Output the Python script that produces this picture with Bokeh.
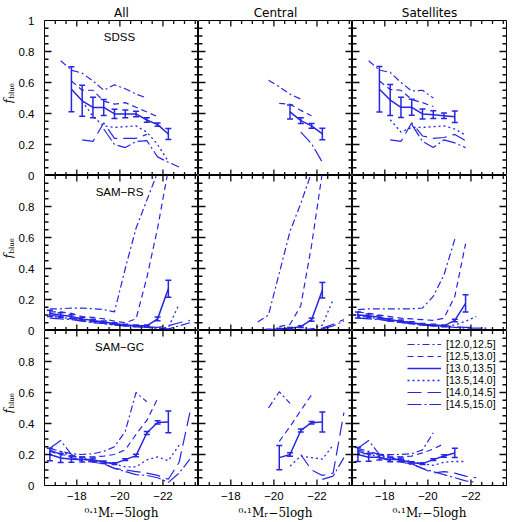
import numpy as np
from bokeh.plotting import figure
from bokeh.models import (Range1d, LinearAxis, FixedTicker, Whisker, TeeHead,
                          ColumnDataSource, Label, Legend, LegendItem, GridBox)
from bokeh.embed import file_html
from bokeh.resources import INLINE

N = None

# absolute magnitude bin centres (0.1M_r - 5 log h)
MAG = [-16.75, -17.25, -17.75, -18.25, -18.75, -19.25, -19.75,
       -20.25, -20.75, -21.25, -21.75, -22.25, -22.75, -23.25]

# halo-mass bins (log M)
BIN_LABELS = ["[12.0,12.5]", "[12.5,13.0]", "[13.0,13.5]",
              "[13.5,14.0]", "[14.0,14.5]", "[14.5,15.0]"]

# ---------------- SDSS ----------------
sdss_all_120 = [N, 0.74, 0.68, 0.66, 0.61, 0.55, 0.585, 0.56, 0.525, 0.50, N, N, N, N]
sdss_all_125 = [N, N, 0.61, 0.55, 0.55, 0.48, 0.46, 0.47, 0.44, 0.41, 0.38, N, N, N]
sdss_all_130 = [N, N, 0.557, 0.482, 0.439, 0.439, 0.397, 0.397, 0.397, 0.358, 0.328, 0.268, N, N]
sdss_all_130_err = [N, N, 0.145, 0.10, 0.066, 0.052, 0.03, 0.025, 0.018, 0.014, 0.011, 0.035, N, N]
sdss_all_135 = [N, N, N, 0.48, 0.38, 0.32, 0.31, 0.315, 0.32, 0.28, 0.20, 0.09, N, N]
sdss_all_140 = [N, N, N, 0.23, 0.22, 0.34, 0.24, 0.24, 0.24, 0.265, N, N, N, N]
sdss_all_145 = [N, N, N, N, N, 0.30, 0.20, 0.18, 0.22, 0.225, 0.12, 0.085, 0.055, N]

sdss_cen_120 = [N, N, N, N, N, N, 0.615, 0.572, 0.525, 0.493, N, N, N, N]
sdss_cen_125 = [N, N, N, N, N, N, N, 0.465, 0.46, 0.42, 0.385, N, N, N]
sdss_cen_130 = [N, N, N, N, N, N, N, N, 0.41, 0.354, 0.32, 0.268, N, N]
sdss_cen_130_err = [N, N, N, N, N, N, N, N, 0.045, 0.018, 0.015, 0.037, N, N]
sdss_cen_135 = [N] * 14
sdss_cen_140 = [N] * 14
sdss_cen_145 = [N, N, N, N, N, N, N, N, N, 0.28, 0.205, 0.085, N, N]

sdss_sat_120 = [N, 0.74, 0.68, 0.665, 0.60, 0.545, 0.55, 0.50, N, N, N, N, N, N]
sdss_sat_125 = [N, N, 0.61, 0.555, 0.55, 0.49, 0.47, 0.445, N, N, N, N, N, N]
sdss_sat_130 = [N, N, 0.557, 0.487, 0.44, 0.44, 0.397, 0.392, 0.386, 0.379, N, N, N, N]
sdss_sat_130_err = [N, N, 0.147, 0.10, 0.065, 0.052, 0.032, 0.025, 0.018, 0.037, N, N, N, N]
sdss_sat_135 = [N, N, N, 0.36, 0.28, 0.31, 0.31, 0.315, 0.32, 0.30, 0.26, N, N, N]
sdss_sat_140 = [N, N, N, 0.23, 0.22, 0.34, 0.255, 0.24, 0.245, 0.265, 0.225, N, N, N]
sdss_sat_145 = [N, N, N, N, N, 0.33, 0.22, 0.18, 0.23, 0.21, 0.18, N, N, N]

# ---------------- SAM-RS ----------------
rs_all_120 = [0.14, 0.14, 0.145, 0.145, 0.14, 0.135, 0.12, 0.40, 0.66, 0.84, 1.02, N, N, N]
rs_all_125 = [0.12, 0.12, 0.11, 0.09, 0.085, 0.075, 0.06, 0.05, 0.075, 0.34, 0.66, 1.04, N, N]
rs_all_130 = [0.11, 0.10, 0.09, 0.075, 0.065, 0.055, 0.045, 0.035, 0.03, 0.03, 0.075, 0.27, N, N]
rs_all_130_err = [0.02, 0.015, 0.012, 0.01, 0.008, 0.006, 0.005, 0.005, 0.005, 0.006, 0.012, 0.055, N, N]
rs_all_135 = [0.09, 0.085, 0.075, 0.065, 0.055, 0.045, 0.035, 0.03, 0.025, 0.02, 0.015, 0.02, 0.17, N]
rs_all_140 = [0.10, 0.09, 0.08, 0.07, 0.06, 0.05, 0.04, 0.035, 0.03, 0.025, 0.02, 0.03, 0.05, 0.065]
rs_all_145 = [0.08, 0.075, 0.07, 0.06, 0.05, 0.045, 0.035, 0.03, 0.025, 0.02, 0.015, 0.01, 0.03, 0.05]

rs_cen_120 = [N, N, N, N, N, 0.055, 0.10, 0.37, 0.64, 0.82, 1.02, N, N, N]
rs_cen_125 = [N, N, N, N, N, N, N, 0.025, 0.04, 0.16, 0.55, 1.02, N, N]
rs_cen_130 = [N, N, N, N, N, N, 0.005, 0.01, 0.015, 0.025, 0.07, 0.26, N, N]
rs_cen_130_err = [N, N, N, N, N, N, 0.003, 0.004, 0.005, 0.006, 0.01, 0.05, N, N]
rs_cen_135 = [N, N, N, N, N, N, N, N, N, N, 0.01, 0.035, 0.20, N]
rs_cen_140 = [N, N, N, N, N, N, N, N, N, 0.005, 0.01, 0.015, 0.04, 0.07]
rs_cen_145 = [N, N, N, N, N, N, N, N, N, N, N, 0.01, 0.03, 0.06]

rs_sat_120 = [0.135, 0.14, 0.14, 0.14, 0.14, 0.14, 0.145, 0.22, 0.36, 0.59, N, N, N, N]
rs_sat_125 = [0.12, 0.11, 0.10, 0.09, 0.08, 0.075, 0.07, 0.065, 0.08, 0.22, 0.56, N, N, N]
rs_sat_130 = [0.10, 0.095, 0.085, 0.07, 0.06, 0.05, 0.04, 0.035, 0.03, 0.065, 0.175, N, N, N]
rs_sat_130_err = [0.02, 0.012, 0.01, 0.008, 0.007, 0.006, 0.005, 0.005, 0.005, 0.008, 0.055, N, N, N]
rs_sat_135 = [0.09, 0.085, 0.075, 0.065, 0.055, 0.045, 0.035, 0.03, 0.025, 0.035, 0.06, 0.09, N, N]
rs_sat_140 = [0.10, 0.09, 0.08, 0.07, 0.06, 0.05, 0.04, 0.035, 0.03, 0.025, 0.02, 0.02, N, N]
rs_sat_145 = [0.08, 0.075, 0.07, 0.06, 0.05, 0.045, 0.035, 0.03, 0.025, 0.02, 0.015, 0.015, 0.015, N]

# ---------------- SAM-GC ----------------
gc_all_120 = [0.24, 0.22, 0.205, 0.20, 0.205, 0.22, 0.25, 0.35, 0.60, 0.54, N, N, N, N]
gc_all_125 = [0.22, 0.20, 0.19, 0.185, 0.185, 0.19, 0.20, 0.23, 0.33, 0.42, 0.56, N, N, N]
gc_all_130 = [0.20, 0.178, 0.17, 0.167, 0.167, 0.15, 0.141, 0.167, 0.193, 0.339, 0.407, 0.41, N, N]
gc_all_130_err = [0.04, 0.03, 0.02, 0.015, 0.01, 0.008, 0.006, 0.006, 0.008, 0.01, 0.01, 0.07, N, N]
gc_all_135 = [N, 0.22, 0.19, 0.175, 0.165, 0.155, 0.14, 0.12, 0.12, 0.165, 0.185, 0.16, 0.26, N]
gc_all_140 = [0.23, 0.20, 0.18, 0.16, 0.15, 0.14, 0.11, 0.10, 0.09, 0.08, 0.065, 0.04, 0.15, 0.47]
gc_all_145 = [0.24, 0.29, 0.20, 0.17, 0.16, 0.14, 0.11, 0.09, 0.07, 0.065, 0.05, 0.02, 0.08, 0.17]

gc_cen_120 = [N, N, N, N, N, N, 0.50, 0.605, 0.53, N, N, N, N, N]
gc_cen_125 = [N, N, N, N, N, N, N, 0.285, 0.38, 0.485, 0.585, N, N, N]
gc_cen_130 = [N, N, N, N, N, N, N, 0.18, 0.20, 0.355, 0.405, 0.41, N, N]
gc_cen_130_err = [N, N, N, N, N, N, N, 0.078, 0.012, 0.01, 0.008, 0.065, N, N]
gc_cen_135 = [N, N, N, N, N, N, N, N, 0.125, 0.19, 0.18, 0.17, 0.26, N]
gc_cen_140 = [N, N, N, N, N, N, N, N, N, 0.20, 0.10, 0.065, 0.08, 0.47]
gc_cen_145 = [N, N, N, N, N, N, N, N, N, N, N, 0.04, 0.06, 0.18]

gc_sat_120 = [0.24, 0.22, 0.20, 0.20, 0.20, 0.205, 0.23, 0.34, N, N, N, N, N, N]
gc_sat_125 = [0.23, 0.21, 0.20, 0.19, 0.185, 0.19, 0.21, 0.235, 0.27, N, N, N, N, N]
gc_sat_130 = [0.20, 0.182, 0.182, 0.167, 0.167, 0.146, 0.141, 0.167, 0.19, 0.21, N, N, N, N]
gc_sat_130_err = [0.045, 0.025, 0.018, 0.014, 0.01, 0.008, 0.006, 0.006, 0.008, 0.03, N, N, N, N]
gc_sat_135 = [0.21, 0.20, 0.19, 0.18, 0.17, 0.155, 0.14, 0.13, 0.15, 0.155, 0.155, N, N, N]
gc_sat_140 = [0.22, 0.20, 0.18, 0.16, 0.15, 0.14, 0.11, 0.08, 0.09, 0.08, 0.06, 0.05, N, N]
gc_sat_145 = [0.24, 0.29, 0.20, 0.18, 0.16, 0.14, 0.11, 0.09, 0.07, 0.05, 0.03, 0.02, N, N]

# axis ticks
X_MAJOR = [-18, -20, -22]
X_MINOR = [-17.0, -17.5, -18.5, -19.0, -19.5, -20.5, -21.0, -21.5, -22.5, -23.0, -23.5]
Y_MAJOR = [0, 0.2, 0.4, 0.6, 0.8, 1.0]
Y_LABELS = ["\u2007\u20080", "0.2", "0.4", "0.6", "0.8", "\u2007\u20081"]
Y_MINOR = [0.05, 0.1, 0.15, 0.25, 0.3, 0.35, 0.45, 0.5, 0.55, 0.65, 0.7, 0.75, 0.85, 0.9, 0.95]
Y_TICK_MARKS = [0.2, 0.4, 0.6, 0.8]

BLUE = "#2626e4"
TICK_COLOR = "#0d0d0d"
DASHES = ["7 3 2 3", "6 4", "solid", "2 3", "14 6", "14 3 2 3"]
WIDTHS = [1.2, 1.2, 1.5, 1.3, 1.2, 1.2]

COL_TITLES = ["All", "Central", "Satellites"]
ROW_NAMES = ["SDSS", "SAM\u2212RS", "SAM\u2212GC"]

PANELS = [
    [(sdss_all_120, sdss_all_125, sdss_all_130, sdss_all_135, sdss_all_140, sdss_all_145, sdss_all_130_err),
     (sdss_cen_120, sdss_cen_125, sdss_cen_130, sdss_cen_135, sdss_cen_140, sdss_cen_145, sdss_cen_130_err),
     (sdss_sat_120, sdss_sat_125, sdss_sat_130, sdss_sat_135, sdss_sat_140, sdss_sat_145, sdss_sat_130_err)],
    [(rs_all_120, rs_all_125, rs_all_130, rs_all_135, rs_all_140, rs_all_145, rs_all_130_err),
     (rs_cen_120, rs_cen_125, rs_cen_130, rs_cen_135, rs_cen_140, rs_cen_145, rs_cen_130_err),
     (rs_sat_120, rs_sat_125, rs_sat_130, rs_sat_135, rs_sat_140, rs_sat_145, rs_sat_130_err)],
    [(gc_all_120, gc_all_125, gc_all_130, gc_all_135, gc_all_140, gc_all_145, gc_all_130_err),
     (gc_cen_120, gc_cen_125, gc_cen_130, gc_cen_135, gc_cen_140, gc_cen_145, gc_cen_130_err),
     (gc_sat_120, gc_sat_125, gc_sat_130, gc_sat_135, gc_sat_140, gc_sat_145, gc_sat_130_err)],
]

TICK_FONT = "Liberation Sans"
FRAME_W = 154
FRAME_H = 155
TOP_PAD = 20
BOTTOM_PAD = 37
X_LO, X_HI = -16.5, -23.65


def hide_grids(p):
    for g in p.xgrid:
        g.visible = False
    for g in p.ygrid:
        g.visible = False


def tick_paths():
    """Inward-pointing tick marks on all four sides, as a list of 2-point paths."""
    dx = (X_HI - X_LO) / FRAME_W   # data units per pixel along x
    dy = 1.0 / FRAME_H             # data units per pixel along y
    xs, ys = [], []
    for ticks, length in ((Y_TICK_MARKS, 7), (Y_MINOR, 4)):
        for t in ticks:
            xs += [[X_LO, X_LO + length * dx], [X_HI, X_HI - length * dx]]
            ys += [[t, t], [t, t]]
    for ticks, length in ((X_MAJOR, 6), (X_MINOR, 3.5)):
        for t in ticks:
            xs += [[t, t], [t, t]]
            ys += [[0.0, length * dy], [1.0, 1.0 - length * dy]]
    return xs, ys


def make_strip():
    """Left strip carrying the f_blue labels and the y tick labels of all rows."""
    s = figure(x_range=Range1d(0, 1), y_range=Range1d(0, 15),
               frame_width=14, frame_height=3 * FRAME_H,
               output_backend="svg", toolbar_location=None,
               x_axis_location=None, y_axis_location=None)
    s.min_border = 0
    s.min_border_top = TOP_PAD
    s.min_border_bottom = BOTTOM_PAD
    s.min_border_right = 30
    s.outline_line_color = None
    s.background_fill_color = "white"
    s.border_fill_color = "white"
    hide_grids(s)

    ticks, labels = [], {}
    for r in range(3):
        base = (2 - r) * 5
        for v, lab in zip(Y_MAJOR, Y_LABELS):
            if v == 1.0 and r > 0:
                continue
            t = int(round(base + v * 5))
            if t in labels:
                continue
            ticks.append(t)
            labels[t] = lab
    ax = LinearAxis(ticker=FixedTicker(ticks=ticks, minor_ticks=[]))
    ax.major_label_overrides = labels
    ax.major_tick_in = 0
    ax.major_tick_out = 0
    ax.minor_tick_in = 0
    ax.minor_tick_out = 0
    ax.axis_line_color = None
    ax.major_tick_line_color = None
    ax.minor_tick_line_color = None
    ax.major_label_standoff = 4
    ax.major_label_text_font = TICK_FONT
    ax.major_label_text_font_size = "11.5px"
    ax.major_label_text_color = "black"
    s.add_layout(ax, "right")

    for r in range(3):
        y0 = (2 - r) * FRAME_H + 72
        s.add_layout(Label(x=8, y=y0, x_units="screen", y_units="screen",
                           text="f", angle=np.pi / 2, text_align="left",
                           text_baseline="middle", text_font="DejaVu Serif",
                           text_font_style="italic", text_font_size="12px",
                           text_color="black"))
        s.add_layout(Label(x=11.5, y=y0 + 5, x_units="screen", y_units="screen",
                           text="blue", angle=np.pi / 2, text_align="left",
                           text_baseline="middle", text_font="DejaVu Serif",
                           text_font_size="7px", text_color="black"))
    return s


def make_panel(row, col):
    p = figure(x_range=Range1d(X_LO, X_HI), y_range=Range1d(0, 1),
               frame_width=FRAME_W, frame_height=FRAME_H,
               output_backend="svg", toolbar_location=None,
               x_axis_location=None, y_axis_location=None)
    p.min_border = 0
    p.min_border_right = 10 if col == 2 else 0
    p.min_border_top = TOP_PAD if row == 0 else 0
    p.min_border_bottom = BOTTOM_PAD if row == 2 else 0
    p.outline_line_color = "black"
    p.outline_line_width = 1
    p.background_fill_color = "white"
    p.border_fill_color = "white"
    hide_grids(p)

    if row == 0:
        p.title.text = COL_TITLES[col]
        p.title.align = "center"
        p.title.text_font = "DejaVu Sans"
        p.title.text_font_size = "12px"
        p.title.text_font_style = "normal"
        p.title.text_color = "black"
        p.title.standoff = 2
        p.title.offset = 0

    if row == 2:
        bx = LinearAxis(ticker=FixedTicker(ticks=X_MAJOR, minor_ticks=[]))
        bx.major_label_overrides = {-18: "\u221218", -20: "\u221220", -22: "\u221222"}
        bx.major_tick_in = 0
        bx.major_tick_out = 0
        bx.minor_tick_in = 0
        bx.minor_tick_out = 0
        bx.axis_line_color = "black"
        bx.major_label_standoff = 6
        bx.major_label_text_font = TICK_FONT
        bx.major_label_text_font_size = "11.5px"
        bx.major_label_text_color = "black"
        bx.axis_label = "\u2070\u00b7\u00b9M\u1d63\u22125logh"
        bx.axis_label_text_font = "DejaVu Serif"
        bx.axis_label_text_font_style = "normal"
        bx.axis_label_text_font_size = "12px"
        bx.axis_label_text_color = "black"
        bx.axis_label_standoff = 3
        p.add_layout(bx, "below")

    data = PANELS[row][col]
    mags = np.array(MAG, dtype=float)
    renderers = []
    for k in range(6):
        vals = np.array(data[k], dtype=float)
        src = ColumnDataSource(dict(x=mags, y=vals))
        r = p.line("x", "y", source=src, line_color=BLUE, line_width=WIDTHS[k],
                   line_dash=DASHES[k])
        renderers.append(r)

    # tick marks, drawn on top of the curves
    txs, tys = tick_paths()
    p.multi_line(xs=txs, ys=tys, line_color=TICK_COLOR, line_width=1.3)

    # error bars on the [13.0,13.5] bin
    yv = np.array(data[2], dtype=float)
    ev = np.array(data[6], dtype=float)
    ok = ~np.isnan(yv) & ~np.isnan(ev)
    esrc = ColumnDataSource(dict(x=mags[ok], upper=(yv + ev)[ok], lower=(yv - ev)[ok]))
    p.add_layout(Whisker(source=esrc, base="x", upper="upper", lower="lower",
                         line_color=BLUE, line_width=1.5,
                         upper_head=TeeHead(size=6, line_color=BLUE, line_width=1.5),
                         lower_head=TeeHead(size=6, line_color=BLUE, line_width=1.5)))

    if col == 0:
        p.add_layout(Label(x=75, y=139, x_units="screen", y_units="screen",
                           text=ROW_NAMES[row], text_align="center",
                           text_baseline="middle", text_font=TICK_FONT,
                           text_font_size="11.5px", text_color="black"))

    if row == 2 and col == 2:
        items = [LegendItem(label=BIN_LABELS[k], renderers=[renderers[k]]) for k in range(6)]
        leg = Legend(items=items, location=(55, 75), orientation="vertical",
                     glyph_width=34, glyph_height=12, label_height=12,
                     label_standoff=5, spacing=0, padding=0, margin=0,
                     label_text_font=TICK_FONT, label_text_font_size="10.5px",
                     label_text_color="black",
                     border_line_alpha=0, background_fill_alpha=0)
        p.add_layout(leg)
    return p


strip = make_strip()
children = [(strip, 0, 0, 3, 1)]
for r in range(3):
    for c in range(3):
        children.append((make_panel(r, c), r, c + 1))

grid = GridBox(children=children, spacing=0)

open("out.html", "w").write(file_html(grid, INLINE))
